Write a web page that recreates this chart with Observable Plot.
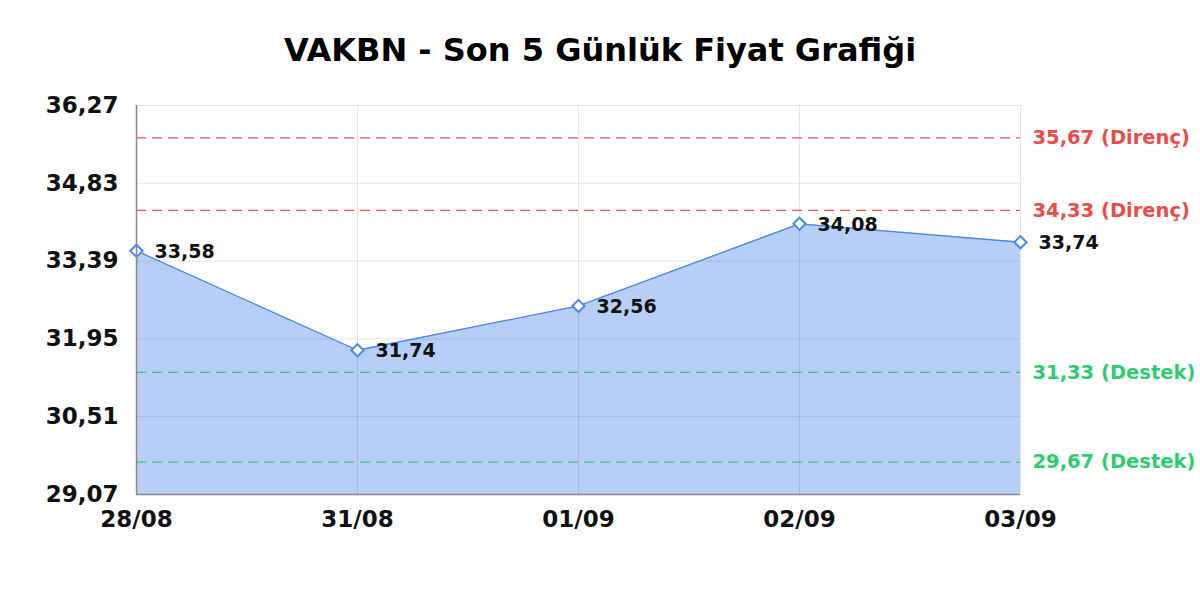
<!DOCTYPE html>
<html><head><meta charset="utf-8">
<script src="https://cdn.jsdelivr.net/npm/d3@7"></script>
<script src="https://cdn.jsdelivr.net/npm/@observablehq/plot@0.6"></script>
<style>
body{margin:0;background:#fff;font-family:"DejaVu Sans",sans-serif;}
#title{box-sizing:border-box;height:85px;padding-top:30px;font-size:32px;line-height:40px;font-weight:bold;text-align:center;color:#000;}
</style></head>
<body>
<div id="title">VAKBN - Son 5 Günlük Fiyat Grafiği</div>
<div id="chart"></div>
<script>
const dates = ["28/08","31/08","01/09","02/09","03/09"];
const prices = [33.58, 31.74, 32.56, 34.08, 33.74];
const yTicks = [29.07, 30.51, 31.95, 33.39, 34.83, 36.27];
const resistance = [35.67, 34.33];
const support = [31.33, 29.67];

const fmt = v => v.toFixed(2).replace(".", ",");
const data = dates.map((d, i) => ({date: d, price: prices[i]}));
const levels = [
  ...resistance.map(v => ({v, label: fmt(v) + " (Direnç)", c: "#ee5050", lc: "#e84c4c"})),
  ...support.map(v => ({v, label: fmt(v) + " (Destek)", c: "#2ecc71", lc: "#2ecc71"}))
];
const blue = "#4a86e8";

const chart = Plot.plot({
  width: 1200,
  height: 515,
  marginLeft: 136,
  marginRight: 180,
  marginTop: 20,
  marginBottom: 106,
  style: {fontFamily: "DejaVu Sans, sans-serif", overflow: "visible"},
  x: {type: "point", domain: dates, padding: 0, label: null},
  y: {domain: [29.07, 36.27], label: null},
  marks: [
    Plot.areaY(data, {x: "date", y1: 29.07, y2: "price", fill: "#b7cff7"}),
    Plot.ruleY(yTicks, {stroke: "#000", strokeOpacity: 0.1}),
    Plot.ruleX(dates, {stroke: "#000", strokeOpacity: 0.1}),
    Plot.ruleY(levels, {y: "v", stroke: "c", strokeDasharray: "10,6", strokeWidth: 1.3}),
    Plot.text(levels, {y: "v", x: () => dates[dates.length - 1], text: "label", fill: "lc", dx: 12, textAnchor: "start", fontSize: 19.5, fontWeight: "bold"}),
    Plot.lineY(data, {x: "date", y: "price", stroke: blue, strokeWidth: 1.3}),
    Plot.dot(data, {x: "date", y: "price", symbol: "diamond2", r: 5.5, stroke: blue, strokeWidth: 2, fill: "white"}),
    Plot.text(data, {x: "date", y: "price", text: d => fmt(d.price), dx: 18, dy: 1, textAnchor: "start", fontSize: 19, fontWeight: "bold", fill: "#111"}),
    Plot.axisY({ticks: yTicks, tickFormat: fmt, tickSize: 0, tickPadding: 18, fontSize: 23, fontWeight: "bold", label: null, color: "#111"}),
    Plot.axisX({tickSize: 0, tickPadding: 16, fontSize: 23, fontWeight: "bold", label: null, color: "#111"}),
    Plot.ruleX([dates[0]], {stroke: "#888", strokeWidth: 1.5}),
    Plot.ruleY([29.07], {stroke: "#888", strokeWidth: 1.5})
  ]
});
document.getElementById("chart").appendChild(chart);
</script>
</body></html>
